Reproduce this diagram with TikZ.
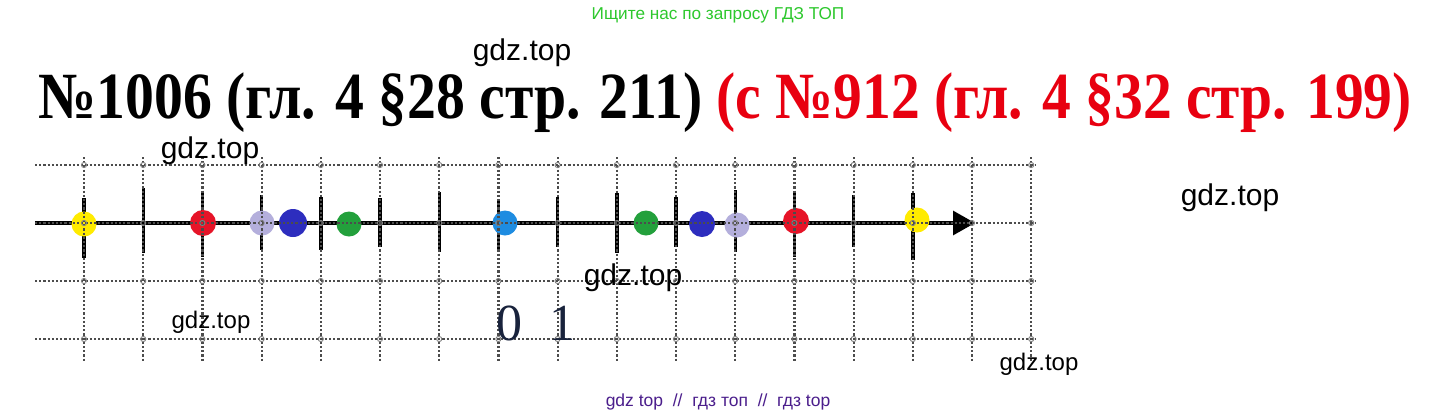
\documentclass[tikz,border=0pt]{standalone}
\usepackage{fontspec}
\setmainfont{Liberation Serif}
\newfontfamily\gdzfont{Liberation Sans}
\usetikzlibrary{arrows.meta}
\definecolor{dotyellow}{RGB}{255,235,0}
\definecolor{dotred}{RGB}{230,20,40}
\definecolor{dotlav}{RGB}{180,175,220}
\definecolor{dotblue}{RGB}{45,45,190}
\definecolor{dotgreen}{RGB}{35,160,60}
\definecolor{dotcyan}{RGB}{30,140,225}
\definecolor{titlered}{RGB}{232,0,16}
\definecolor{numnavy}{RGB}{25,35,60}
\definecolor{topgreen}{RGB}{45,200,45}
\definecolor{botviolet}{RGB}{75,30,140}
\begin{document}
\begin{tikzpicture}[x=1pt,y=-1pt,
  gridline/.style={line width=2.2pt,dash pattern=on 2.2pt off 2pt,black!70},
  tickmark/.style={line width=3.4pt,black},
  pt/.style={circle,inner sep=0pt,minimum size=25pt},
  wm/.style={font=\gdzfont\fontsize{30}{30}\selectfont,anchor=base},
  wmsmall/.style={font=\gdzfont\fontsize{24}{24}\selectfont,anchor=base}]
\useasboundingbox[fill=white] (0,0) rectangle (1437,416);
\node[font=\gdzfont\fontsize{17.2}{17.2}\selectfont,text=topgreen,anchor=base] (poisk) at (718,19) {Ищите нас по запросу ГДЗ ТОП};
\node[anchor=base west,font=\bfseries\fontsize{66}{66}\selectfont] (nomer) at (35,118) {\scalebox{0.875}[1]{№1006 (гл. 4 §28 стр. 211)}};
\node[anchor=base west,font=\bfseries\fontsize{66}{66}\selectfont,text=titlered] (staryj) at (713,118) {\scalebox{0.872}[1]{(с №912 (гл. 4 §32 стр. 199)}};
\coordinate (axL) at (35,223);
\coordinate (axR) at (975,223);
\draw[line width=3.2pt,-{Triangle[length=22pt,width=24pt]}] (axL) -- (axR);
\foreach \k/\t/\b in {0/198/258,1/188/253,2/193/257,3/195/250,4/197/250,5/198/247,6/192/252,7/200/252,
  8/197/247,9/193/253,10/197/247,11/190/252,12/193/257,13/195/247,14/193/260}
  \draw[tickmark] (84+59.2*\k,\t) -- (84+59.2*\k,\b);
\node[pt,fill=dotyellow] (yellowL) at (84,224) {};
\node[pt,fill=dotred,minimum size=26pt] (redL) at (203,223) {};
\node[pt,fill=dotlav] (lavL) at (262,223) {};
\node[pt,fill=dotblue,minimum size=28pt] (blueL) at (293,223) {};
\node[pt,fill=dotgreen] (greenL) at (349,224) {};
\node[pt,fill=dotcyan] (cyanM) at (505,223) {};
\node[pt,fill=dotgreen] (greenR) at (646,223) {};
\node[pt,fill=dotblue,minimum size=26pt] (blueR) at (702,224) {};
\node[pt,fill=dotlav] (lavR) at (737,225) {};
\node[pt,fill=dotred,minimum size=26pt] (redR) at (796,221) {};
\node[pt,fill=dotyellow] (yellowR) at (917,220) {};
\foreach \k in {0,...,16}
  \draw[gridline] (84+59.2*\k,157) -- (84+59.2*\k,362);
\foreach \y in {165,223,281,339}
  \draw[gridline] (35,\y) -- (1036,\y);
\foreach \k in {0,...,16}
  \foreach \y in {165,223,281,339}
    \draw[black!50,line width=0.9pt] (84+59.2*\k,\y) circle[radius=2.6pt];
\node[font=\fontsize{52}{52}\selectfont,text=numnavy,anchor=base] (nol) at (509,340) {0};
\node[font=\fontsize{52}{52}\selectfont,text=numnavy,anchor=base] (odin) at (562,340) {1};
\node[wm] (wm1) at (522,60) {gdz.top};
\node[wm] (wm2) at (210,158) {gdz.top};
\node[wm] (wm3) at (1230,205) {gdz.top};
\node[wm] (wm4) at (633,285) {gdz.top};
\node[wmsmall] (wm5) at (211,328) {gdz.top};
\node[wmsmall] (wm6) at (1039,370) {gdz.top};
\node[font=\gdzfont\fontsize{17.5}{17.5}\selectfont,text=botviolet,anchor=base] (sajty) at (718,406) {gdz top\ \ //\ \ гдз топ\ \ //\ \ гдз top};
\end{tikzpicture}
\end{document}
